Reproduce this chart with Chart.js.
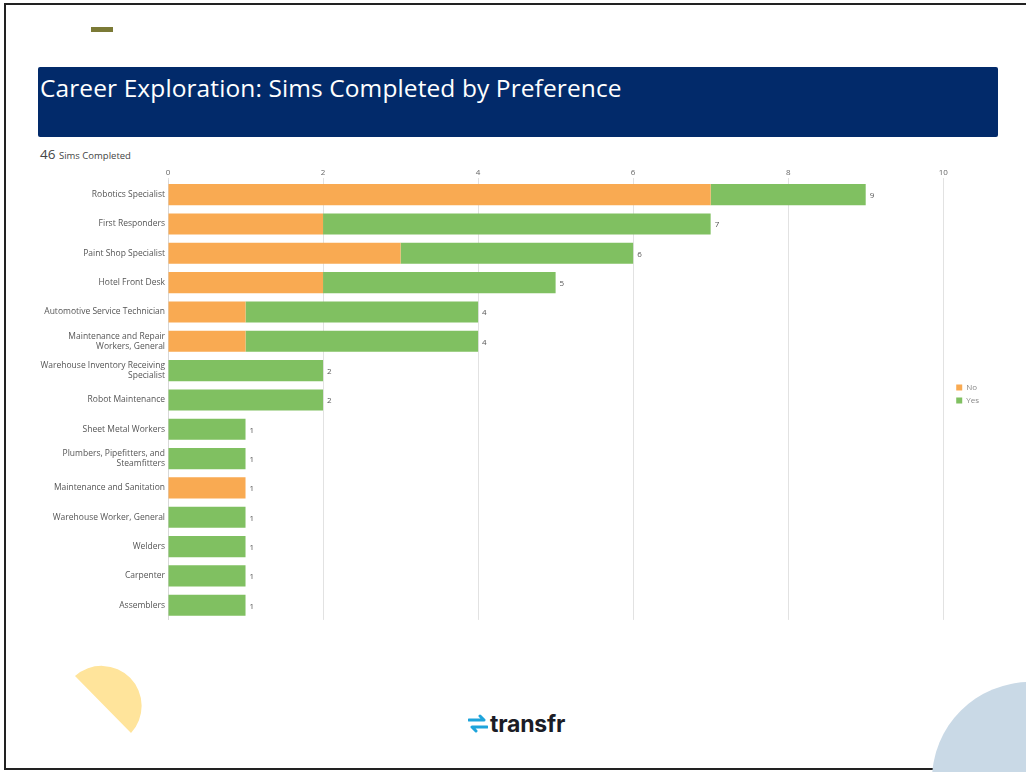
<!DOCTYPE html>
<html>
<head>
<meta charset="utf-8">
<script src="https://cdn.jsdelivr.net/npm/chart.js"></script>
<style>
  body { margin: 0; background: #fff; font-family: "Open Sans", sans-serif; }
  #page { position: relative; width: 1026px; height: 772px; overflow: hidden; }
  #frame { position: absolute; left: 4px; top: 3px; width: 1024px; height: 763px; border: 2px solid #222; }
  #dash { position: absolute; left: 91px; top: 27px; width: 22px; height: 5px; background: #7b7a36; }
  #banner { position: absolute; left: 38px; top: 67px; width: 960px; height: 70px; background: #022a6a; border-radius: 2px; }
  #banner h1 { margin: 0; padding: 4px 0 0 2px; color: #fff; font-weight: 400; font-size: 24.5px; letter-spacing: 0.1px; }
  #count { position: absolute; left: 40px; top: 145px; color: #444; font-size: 13.5px; }
  #count span { font-size: 9.5px; }
  #chartBox { position: absolute; left: 30px; top: 160px; width: 959px; height: 468px; }
  #sun { position: absolute; left: 63px; top: 664px; width: 80px; height: 80px; }
  #blob { position: absolute; left: 932px; top: 682px; width: 196px; height: 196px; border-radius: 50%; background: #c9d9e6; }
  #logo { position: absolute; left: 468px; top: 710px; display: flex; align-items: center; }
  #logo span { font-family: "Inter", sans-serif; font-weight: 700; font-size: 23px; color: #1b1c26; margin-left: 2px; letter-spacing: -0.2px; }
</style>
</head>
<body>
<div id="page">
  <div id="frame"></div>
  <div id="dash"></div>
  <div id="banner"><h1>Career Exploration: Sims Completed by Preference</h1></div>
  <div id="count">46 <span>Sims Completed</span></div>
  <div id="chartBox"><canvas id="myChart"></canvas></div>
  <svg id="sun" viewBox="0 0 80 80"><path d="M12 12 L68 69 A40 40 0 0 0 12 12 Z" fill="#ffe49b"/></svg>
  <div id="blob"></div>
  <div id="logo">
    <svg width="20" height="22" viewBox="0 0 20 22">
      <path d="M1 7 H16 M12 3 L16 7" stroke="#1ea4db" stroke-width="3" fill="none" stroke-linecap="round"/>
      <path d="M19 14 H4 M8 18 L4 14" stroke="#1ea4db" stroke-width="3" fill="none" stroke-linecap="round"/>
    </svg>
    <span>transfr</span>
  </div>
</div>
<script>
const categories = [
  "Robotics Specialist",
  "First Responders",
  "Paint Shop Specialist",
  "Hotel Front Desk",
  "Automotive Service Technician",
  ["Maintenance and Repair", "Workers, General"],
  ["Warehouse Inventory Receiving", "Specialist"],
  "Robot Maintenance",
  "Sheet Metal Workers",
  ["Plumbers, Pipefitters, and", "Steamfitters"],
  "Maintenance and Sanitation",
  "Warehouse Worker, General",
  "Welders",
  "Carpenter",
  "Assemblers"
];
const noValues = [7, 2, 3, 2, 1, 1, 0, 0, 0, 0, 1, 0, 0, 0, 0];
const yesValues = [2, 5, 3, 3, 3, 3, 2, 2, 1, 1, 0, 1, 1, 1, 1];
const xTicks = [0, 2, 4, 6, 8, 10];

const chartDOM = document.getElementById("myChart");

// totals written at the end of each stacked bar
const totalsPlugin = {
  id: "totals",
  afterDatasetsDraw(chart) {
    const ctx = chart.ctx;
    const xScale = chart.scales.x;
    const yScale = chart.scales.y;
    ctx.save();
    ctx.font = "8px 'Open Sans'";
    ctx.fillStyle = "#555";
    ctx.textBaseline = "middle";
    categories.forEach((c, i) => {
      const total = noValues[i] + yesValues[i];
      ctx.fillText(total, xScale.getPixelForValue(total) + 4, yScale.getPixelForValue(i) + 1);
    });
    ctx.restore();
  }
};

new Chart(chartDOM, {
  type: "bar",
  data: {
    labels: categories,
    datasets: [
      { label: "No", data: noValues, backgroundColor: "#f9aa52" },
      { label: "Yes", data: yesValues, backgroundColor: "#80c061" }
    ]
  },
  options: {
    indexAxis: "y",
    responsive: true,
    maintainAspectRatio: false,
    animation: false,
    barPercentage: 0.72,
    categoryPercentage: 1,
    layout: { padding: 0 },
    plugins: {
      tooltip: { enabled: false },
      legend: {
        position: "right",
        labels: { font: { size: 8, family: "Open Sans" }, color: "#888", boxWidth: 6, boxHeight: 6, padding: 5 }
      }
    },
    scales: {
      x: {
        position: "top",
        stacked: true,
        min: 0,
        max: 10,
        afterBuildTicks: (scale) => { scale.ticks = xTicks.map((v) => ({ value: v })); },
        afterFit: (scale) => { scale.height = 20; },
        grid: { color: "#e2e2e2", drawTicks: true, tickLength: 2 },
        border: { display: false },
        ticks: { font: { size: 8, family: "Open Sans" }, color: "#666", padding: 0 }
      },
      y: {
        stacked: true,
        afterFit: (scale) => { scale.width = 138; },
        grid: { display: false, drawTicks: false },
        border: { color: "#d8d8d8" },
        ticks: { font: { size: 8.5, family: "Open Sans" }, color: "#555", padding: 3 }
      },
      // empty strip between the plot and the legend
      gap: {
        type: "linear",
        position: "right",
        afterFit: (scale) => { scale.width = 8; },
        grid: { display: false },
        border: { display: false },
        ticks: { display: false }
      }
    }
  },
  plugins: [totalsPlugin]
});
</script>
</body>
</html>
